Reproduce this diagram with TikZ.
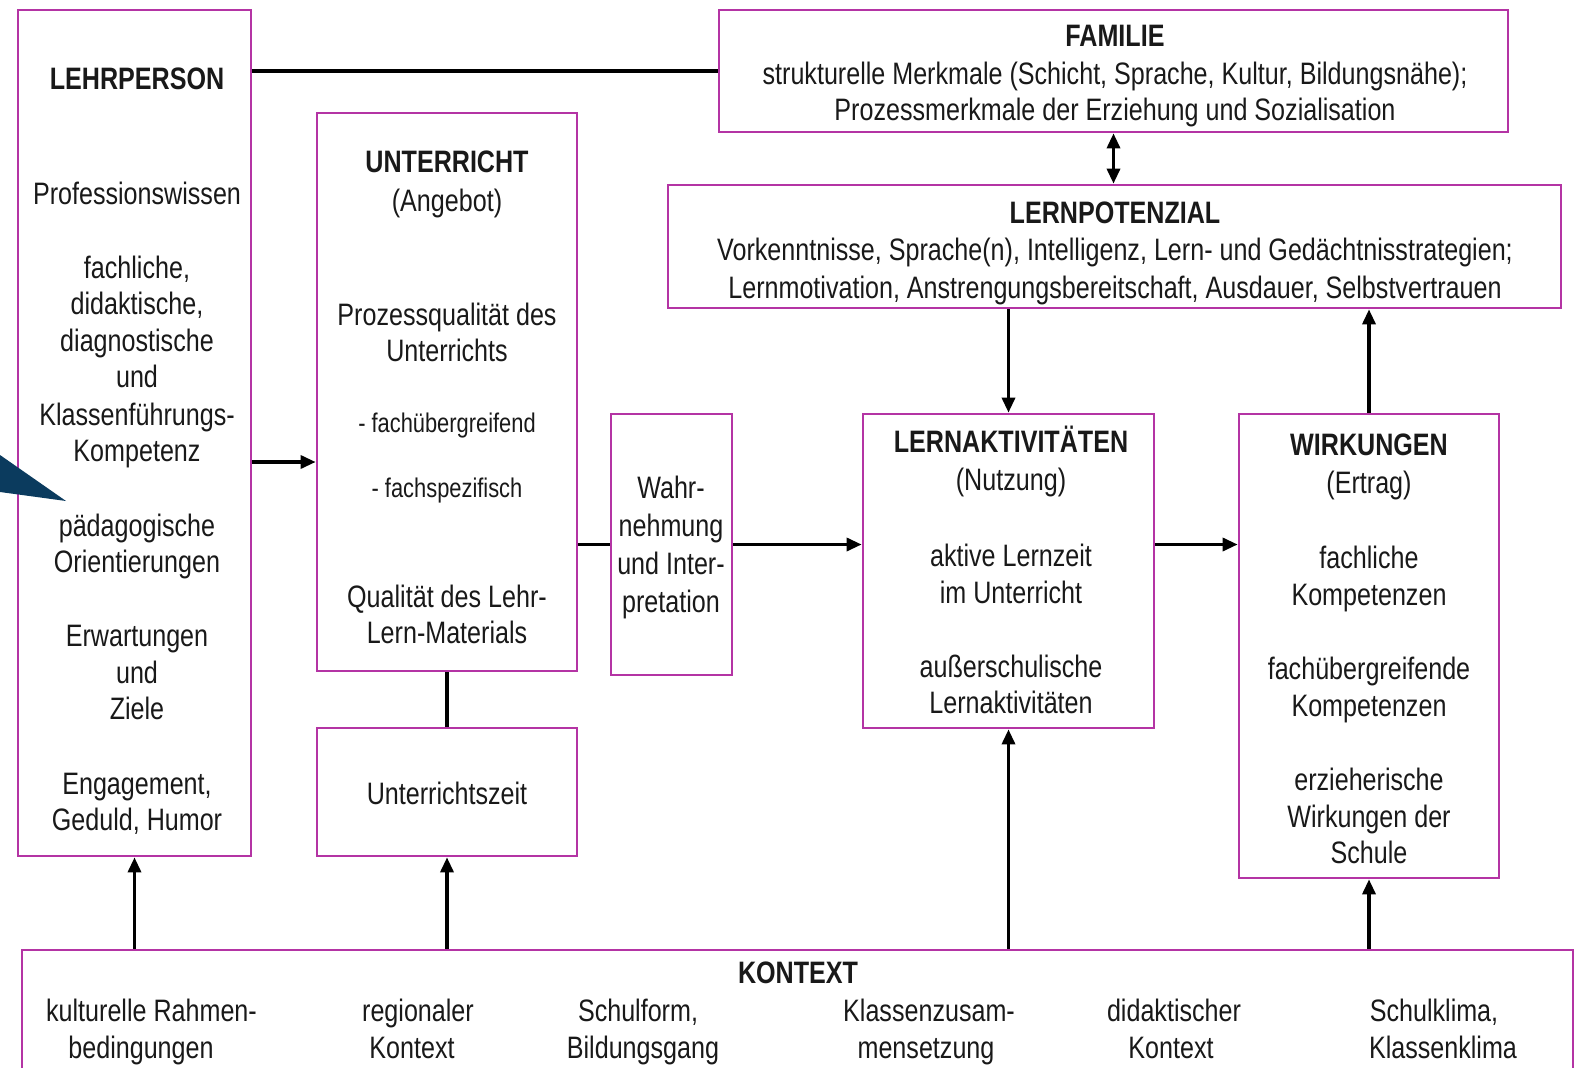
\documentclass[tikz,border=0pt]{standalone}
\usepackage{fontspec}
\setmainfont[FakeStretch=0.81]{Liberation Sans}
\usetikzlibrary{arrows.meta,calc}
\definecolor{boxc}{RGB}{180,52,164}
\definecolor{tric}{RGB}{11,59,94}
\definecolor{txtc}{RGB}{25,25,25}
\newcommand\tl[5][t]{\path (#3,#4) ++(0,11) node[#1] (#2) {#5};}
\begin{document}
\begin{tikzpicture}[x=1pt,y=-1pt,
 box/.style={draw=boxc,line width=2.7pt,inner sep=0pt},
 line/.style={line width=3.3pt,draw=black},
 arr/.style={line,-{Triangle[length=15pt,width=13pt]}},
 arr2/.style={line,{Triangle[length=15pt,width=13pt]}-{Triangle[length=15pt,width=13pt]}},
 t/.style={anchor=base,inner sep=0pt,text=txtc,font=\fontsize{31}{36}\selectfont},
 tb/.style={t,font=\fontsize{31}{36}\selectfont\bfseries},
 ts/.style={t,font=\fontsize{27}{32}\selectfont}]
\clip (0,0) rectangle (1580,1068);
\fill[white] (0,0) rectangle (1580,1068);

% boxes
\node[box,minimum width=233pt,minimum height=846pt] (lehr) at (134.5,433) {};
\node[box,minimum width=260pt,minimum height=558pt] (unt) at (447,392) {};
\node[box,minimum width=260pt,minimum height=128pt] (zeit) at (447,792) {};
\node[box,minimum width=121pt,minimum height=261pt] (wahr) at (671.5,544.5) {};
\node[box,minimum width=291pt,minimum height=314pt] (lern) at (1008.5,571) {};
\node[box,minimum width=260pt,minimum height=464pt] (wirk) at (1369,646) {};
\node[box,minimum width=893pt,minimum height=123pt] (pot) at (1114.5,246.5) {};
\node[box,minimum width=789pt,minimum height=122pt] (fam) at (1113.5,71) {};
\node[box,minimum width=1551pt,minimum height=140pt] (kon) at (797.5,1020) {};

% blue pointer
\fill[tric] (0,455) -- (66,501) -- (0,492) -- cycle;

% connectors
\draw[line] (fam.west -| lehr.east) -- (fam.west);
\draw[arr] ([yshift=-29pt]lehr.east) -- ([yshift=-29pt]lehr.east -| unt.west);
\draw[line] (unt.south) -- (zeit.north);
\draw[line] (wahr.west -| unt.east) -- (wahr.west);
\draw[arr] (wahr.east) -- (wahr.east -| lern.west);
\draw[arr] (wahr.east -| lern.east) -- (wahr.east -| wirk.west);
\draw[arr2] (fam.south) -- (fam.south |- pot.north);
\draw[arr] (pot.south -| lern.north) -- (lern.north);
\draw[arr] (wirk.north) -- (wirk.north |- pot.south);
\draw[arr] (lehr.south |- kon.north) -- (lehr.south);
\draw[arr] (zeit.south |- kon.north) -- (zeit.south);
\draw[arr] (lern.south |- kon.north) -- (lern.south);
\draw[arr] (wirk.south |- kon.north) -- (wirk.south);

% LEHRPERSON
\tl[tb]{l0}{137}{78.6}{LEHRPERSON}
\tl{l1}{137}{193.5}{Professionswissen}
\tl{l2}{137}{267}{fachliche,}
\tl{l3}{137}{303.3}{didaktische,}
\tl{l4}{137}{340.6}{diagnostische}
\tl{l5}{137}{376.9}{und}
\tl{l6}{137}{414.2}{Klassenführungs-}
\tl{l7}{137}{450.4}{Kompetenz}
\tl{l8}{137}{525}{pädagogische}
\tl{l9}{137}{561.3}{Orientierungen}
\tl{l10}{137}{635.9}{Erwartungen}
\tl{l11}{137}{672.1}{und}
\tl{l12}{137}{708.4}{Ziele}
\tl{l13}{137}{783}{Engagement,}
\tl{l14}{137}{819.3}{Geduld, Humor}

% UNTERRICHT
\tl[tb]{u0}{447}{161.2}{UNTERRICHT}
\tl{u1}{447}{200.5}{(Angebot)}
\tl{u2}{447}{314.4}{Prozessqualität des}
\tl{u3}{447}{350.7}{Unterrichts}
\tl[ts]{u4}{447}{421}{- fachübergreifend}
\tl[ts]{u5}{447}{486.5}{- fachspezifisch}
\tl{u6}{447}{596.6}{Qualität des Lehr-}
\tl{u7}{447}{632.8}{Lern-Materials}
\tl{z1}{447}{793}{Unterrichtszeit}

% Wahrnehmung
\tl{w1}{671}{487.7}{Wahr-}
\tl{w2}{671}{525}{nehmung}
\tl{w3}{671}{563.3}{und Inter-}
\tl{w4}{671}{601.6}{pretation}

% FAMILIE
\tl[tb]{f0}{1115}{35.3}{FAMILIE}
\tl{f1}{1115}{73.6}{strukturelle Merkmale (Schicht, Sprache, Kultur, Bildungsnähe);}
\tl{f2}{1115}{109.8}{Prozessmerkmale der Erziehung und Sozialisation}

% LERNPOTENZIAL
\tl[tb]{p0}{1115}{212.6}{LERNPOTENZIAL}
\tl{p1}{1115}{249.9}{Vorkenntnisse, Sprache(n), Intelligenz, Lern- und Gedächtnisstrategien;}
\tl{p2}{1115}{287.2}{Lernmotivation, Anstrengungsbereitschaft, Ausdauer, Selbstvertrauen}

% LERNAKTIVITAETEN
\tl[tb]{a0}{1011}{441.4}{LERNAKTIVITÄTEN}
\tl{a1}{1011}{479.7}{(Nutzung)}
\tl{a2}{1011}{555.2}{aktive Lernzeit}
\tl{a3}{1011}{592.5}{im Unterricht}
\tl{a4}{1011}{666.1}{außerschulische}
\tl{a5}{1011}{702.4}{Lernaktivitäten}

% WIRKUNGEN
\tl[tb]{k0}{1369}{444.4}{WIRKUNGEN}
\tl{k1}{1369}{482.7}{(Ertrag)}
\tl{k2}{1369}{557.3}{fachliche}
\tl{k3}{1369}{594.5}{Kompetenzen}
\tl{k4}{1369}{668.1}{fachübergreifende}
\tl{k5}{1369}{705.4}{Kompetenzen}
\tl{k6}{1369}{779}{erzieherische}
\tl{k7}{1369}{816.2}{Wirkungen der}
\tl{k8}{1369}{852.5}{Schule}

% KONTEXT
\tl[tb]{c0}{798}{972.4}{KONTEXT}
\tl{c1a}{151.5}{1010.7}{kulturelle Rahmen-}
\tl{c1b}{141}{1047}{bedingungen}
\tl{c2a}{418}{1010.7}{regionaler}
\tl{c2b}{412}{1047}{Kontext}
\tl{c3a}{638}{1010.7}{Schulform,}
\tl{c3b}{643}{1047}{Bildungsgang}
\tl{c4a}{929}{1010.7}{Klassenzusam-}
\tl{c4b}{926}{1047}{mensetzung}
\tl{c5a}{1174}{1010.7}{didaktischer}
\tl{c5b}{1171}{1047}{Kontext}
\tl{c6a}{1434}{1010.7}{Schulklima,}
\tl{c6b}{1443}{1047}{Klassenklima}
\end{tikzpicture}
\end{document}
